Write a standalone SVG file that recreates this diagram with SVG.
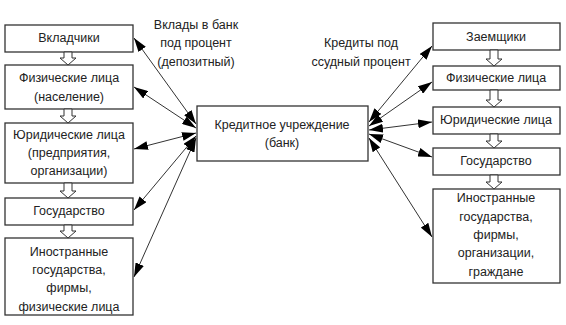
<svg xmlns="http://www.w3.org/2000/svg" width="566" height="325" viewBox="0 0 566 325">
<style>
.box{fill:#fff;stroke:#333;stroke-width:1.3}
.ha{fill:#fff;stroke:#333;stroke-width:1}
.t{font-family:"Liberation Sans",Arial,sans-serif;font-size:12.5px;fill:#222;text-anchor:middle}
.c line{stroke:#333;stroke-width:1;marker-start:url(#ah);marker-end:url(#ah)}
</style>
<defs>
<marker id="ah" viewBox="0 0 14 9" refX="14" refY="4.5" markerWidth="14" markerHeight="9" orient="auto-start-reverse" markerUnits="userSpaceOnUse"><path d="M0,0 L14,4.5 L0,9 Z" fill="#000"/></marker>
</defs>
<rect width="566" height="325" fill="#fff"/>

<g id="left-vkladchiki"><rect class="box" x="5" y="25" width="128" height="27"/><text class="t" x="69" y="42">Вкладчики</text></g>
<g id="left-fiz"><rect class="box" x="5" y="65" width="128" height="44"/><text class="t" x="69" y="82">Физические лица</text><text class="t" x="69" y="101">(население)</text></g>
<g id="left-yur"><rect class="box" x="5" y="123" width="128" height="60"/><text class="t" x="69" y="139">Юридические лица</text><text class="t" x="69" y="157">(предприятия,</text><text class="t" x="69" y="175">организации)</text></g>
<g id="left-gos"><rect class="box" x="5" y="198" width="128" height="27"/><text class="t" x="69" y="215">Государство</text></g>
<g id="left-inostr"><rect class="box" x="5" y="238" width="128" height="77"/><text class="t" x="69" y="256">Иностранные</text><text class="t" x="69" y="274">государства,</text><text class="t" x="69" y="292">фирмы,</text><text class="t" x="69" y="311">физические лица</text></g>

<g id="bank"><rect class="box" x="197" y="106" width="171" height="55"/><text class="t" x="282" y="129">Кредитное учреждение</text><text class="t" x="282" y="147">(банк)</text></g>

<g id="right-zaem"><rect class="box" x="433" y="23" width="127" height="27"/><text class="t" x="496" y="41">Заемщики</text></g>
<g id="right-fiz"><rect class="box" x="433" y="66" width="127" height="24"/><text class="t" x="496" y="82">Физические лица</text></g>
<g id="right-yur"><rect class="box" x="433" y="107" width="127" height="27"/><text class="t" x="496" y="124">Юридические лица</text></g>
<g id="right-gos"><rect class="box" x="433" y="148" width="127" height="27"/><text class="t" x="496" y="165">Государство</text></g>
<g id="right-inostr"><rect class="box" x="433" y="189" width="127" height="94"/><text class="t" x="496" y="202">Иностранные</text><text class="t" x="496" y="221">государства,</text><text class="t" x="496" y="239">фирмы,</text><text class="t" x="496" y="257">организации,</text><text class="t" x="496" y="276">граждане</text></g>

<g id="label-vklady"><text class="t" x="196" y="29">Вклады в банк</text><text class="t" x="196" y="47">под процент</text><text class="t" x="196" y="66">(депозитный)</text></g>
<g id="label-kredity"><text class="t" x="361" y="47">Кредиты под</text><text class="t" x="361" y="66">ссудный процент</text></g>

<g id="hollow-arrows">
<path class="ha" d="M64,52 L72,52 L72,58 L76,58 L68,65 L60,58 L64,58 Z"/>
<path class="ha" d="M64,109 L72,109 L72,116 L76,116 L68,123 L60,116 L64,116 Z"/>
<path class="ha" d="M64,183 L72,183 L72,191 L76,191 L68,198 L60,191 L64,191 Z"/>
<path class="ha" d="M64,225 L72,225 L72,231 L76,231 L68,238 L60,231 L64,231 Z"/>
<path class="ha" d="M490,50 L498,50 L498,59 L502,59 L494,66 L486,59 L490,59 Z"/>
<path class="ha" d="M490,90 L498,90 L498,100 L502,100 L494,107 L486,100 L490,100 Z"/>
<path class="ha" d="M490,134 L498,134 L498,141 L502,141 L494,148 L486,141 L490,141 Z"/>
<path class="ha" d="M490,175 L498,175 L498,182 L502,182 L494,189 L486,182 L490,182 Z"/>
</g>

<g id="connectors" class="c">
<line x1="196" y1="124" x2="134" y2="38"/>
<line x1="196" y1="128" x2="134" y2="87"/>
<line x1="196" y1="133" x2="134" y2="149"/>
<line x1="196" y1="136" x2="134" y2="210"/>
<line x1="196" y1="138" x2="134" y2="277"/>
<line x1="369" y1="122" x2="432" y2="46"/>
<line x1="369" y1="126" x2="432" y2="82"/>
<line x1="369" y1="130" x2="432" y2="122"/>
<line x1="369" y1="134" x2="432" y2="157"/>
<line x1="369" y1="138" x2="432" y2="237"/>
</g>
</svg>
